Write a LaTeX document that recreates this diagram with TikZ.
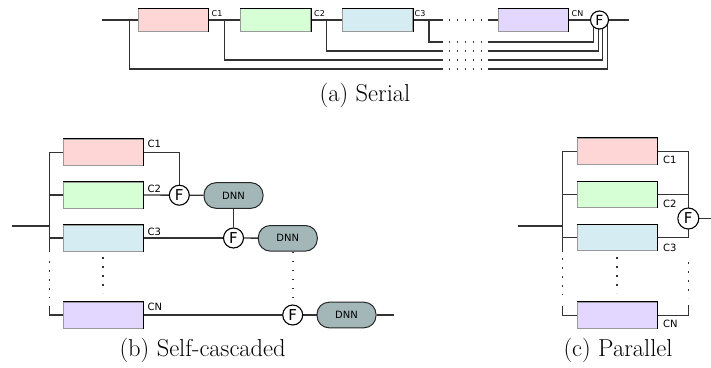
\documentclass[tikz,border=0pt]{standalone}
\usepackage{fontspec}
\newfontfamily\lblfont{DejaVu Sans}
\usetikzlibrary{backgrounds}
\definecolor{pinkc}{HTML}{FFD6D6}
\definecolor{greenc}{HTML}{D6FFD6}
\definecolor{bluec}{HTML}{D6ECF3}
\definecolor{purc}{HTML}{E3D6FF}
\definecolor{dnnc}{HTML}{A3B7B8}
\begin{document}
\begin{tikzpicture}[x=1pt,y=-1pt,
  conn/.style={draw=black!80, line width=1.3pt},
  dotline/.style={draw=black!80, line width=1.6pt, dash pattern=on 1.8pt off 7.2pt},
  sdotline/.style={draw=black!75, line width=1.4pt, dash pattern=on 1.6pt off 6.4pt},
  cbox/.style={draw=black!40, line width=1pt, inner sep=0pt, minimum width=80pt, minimum height=26pt},
  sbox/.style={cbox, minimum width=70pt, minimum height=22.7pt},
  fuse/.style={circle, draw=black, fill=white, line width=1.1pt, inner sep=0pt, minimum size=20pt, font=\lblfont\fontsize{15}{15}\selectfont},
  dnn/.style={draw=black!85, fill=dnnc, line width=1pt, rounded corners=12pt, minimum width=59pt, minimum height=25.6pt, inner sep=0pt, font=\lblfont\fontsize{10}{10}\selectfont},
  lbl/.style={font=\lblfont\fontsize{10}{10}\selectfont, inner sep=0pt, anchor=base west},
  slbl/.style={font=\lblfont\fontsize{8}{8}\selectfont, inner sep=0pt, anchor=base west},
  capt/.style={font=\fontsize{24.5}{29}\selectfont, inner sep=0pt, anchor=base}
]
\useasboundingbox (0,0) rectangle (711,367);

%% (a) Serial
\coordinate (sin) at (102,20);
\node[sbox, fill=pinkc] (s1) at (173.3,20) {};
\node[sbox, fill=greenc] (s2) at (275.5,20) {};
\node[sbox, fill=bluec] (s3) at (377.5,20) {};
\node[sbox, fill=purc] (s4) at (533.2,20) {};
\node[fuse, minimum size=18pt, font=\lblfont\fontsize{14}{14}\selectfont] (sF) at (599.5,20) {F};
\coordinate (sout) at (629,20);
\coordinate (sb1) at (129.3,20);
\coordinate (sb2) at (224.3,20);
\coordinate (sb3) at (326.7,20);
\coordinate (sb4) at (429,20);
\coordinate (sga) at (443,20);
\coordinate (sgb) at (448.5,20);
\coordinate (sgc) at (482,20);
\coordinate (sgd) at (488,20);
\node[slbl] (lc1) at (211.5,16.7) {C1};
\node[slbl] (lc2) at (314,16.7) {C2};
\node[slbl] (lc3) at (414.5,16.7) {C3};
\node[slbl] (lcn) at (571.5,16.7) {CN};

\begin{pgfonlayer}{background}
\draw[conn] (sin) -- (s1.west);
\draw[conn] (s1.east) -- (s2.west);
\draw[conn] (s2.east) -- (s3.west);
\draw[conn] (s3.east) -- (sga);
\draw[sdotline] (sgb) -- (sgc);
\draw[conn] (sgd) -- (s4.west);
\draw[conn] (s4.east) -- (sF);
\draw[conn] (sF) -- (sout);
\foreach \src/\yy/\dx in {sb1/69/7.8, sb2/60/3.2, sb3/51/-1.2, sb4/42/-6.2} {
  \draw[conn] (\src) |- ([yshift=-\yy pt+20pt]sga);
  \draw[sdotline] ([yshift=-\yy pt+20pt]sgb) -- ([yshift=-\yy pt+20pt]sgc);
  \draw[conn] ([yshift=-\yy pt+20pt]sgd) -| ([xshift=\dx pt]sF.center);
}
\end{pgfonlayer}

%% (b) Self-cascaded
\coordinate (bin) at (11.7,226);
\node[cbox, fill=pinkc] (b1) at (103.3,152.2) {};
\node[cbox, fill=greenc] (b2) at (103.3,195) {};
\node[cbox, fill=bluec] (b3) at (103.3,238) {};
\node[cbox, fill=purc] (bN) at (103.3,315) {};
\node[fuse] (f1) at (179.3,195.2) {F};
\node[dnn] (d1) at (233.5,195.5) {DNN};
\node[fuse] (f2) at (233.5,238) {F};
\node[dnn] (d2) at (287.8,238.3) {DNN};
\node[fuse] (f3) at (292.7,315) {F};
\node[dnn] (d3) at (346.5,315) {DNN};
\coordinate (bout) at (394,315);
\coordinate (bt) at (49.3,152.2);
\coordinate (bm1) at (49.3,252);
\coordinate (bm2) at (49.3,261);
\coordinate (bm3) at (49.3,298);
\coordinate (bm4) at (49.3,306);
\coordinate (bdA) at (102.7,257);
\coordinate (bdB) at (102.7,293);
\node[lbl] (bl1) at (147.5,147.3) {C1};
\node[lbl] (bl2) at (147.5,192.5) {C2};
\node[lbl] (bl3) at (147.5,235) {C3};
\node[lbl] (bln) at (147.5,310.5) {CN};

\begin{pgfonlayer}{background}
\draw[conn] (bin) -- (bin -| bt);
\draw[conn] (bt) -- (bm1);
\draw[dotline] (bm2) -- (bm3);
\draw[conn] (bm4) |- (bN.west);
\draw[conn] (bt) -- (b1.west);
\draw[conn] (b2.west -| bt) -- (b2.west);
\draw[conn] (b3.west -| bt) -- (b3.west);
\draw[dotline] (bdA) -- (bdB);
\draw[conn] (b1.east) -| (f1);
\draw[conn] (b2.east) -- (f1);
\draw[conn] (f1) -- (d1);
\draw[conn] (d1) -- (f2);
\draw[conn] (b3.east) -- (f2);
\draw[conn] (f2) -- (d2);
\draw[dotline] (d2.south -| f3) -- (f3.north);
\draw[conn] (bN.east) -- (f3);
\draw[conn] (f3) -- (d3);
\draw[conn] (d3) -- (bout);
\end{pgfonlayer}

%% (c) Parallel
\coordinate (pin) at (518.3,226);
\node[cbox, fill=pinkc] (p1) at (617,151.2) {};
\node[cbox, fill=greenc] (p2) at (617,194.5) {};
\node[cbox, fill=bluec] (p3) at (617,237.5) {};
\node[cbox, fill=purc] (pN) at (617,315.3) {};
\node[fuse, minimum size=21pt] (pF) at (688.3,218.5) {F};
\coordinate (pout) at (711,218.5);
\coordinate (pt) at (562.3,151.2);
\coordinate (pm1) at (562.3,252);
\coordinate (pm2) at (562.3,258);
\coordinate (pm3) at (562.3,295);
\coordinate (pm4) at (562.3,306);
\coordinate (qm2) at (688.3,262);
\coordinate (qm3) at (688.3,298);
\coordinate (qm4) at (688.3,305);
\coordinate (pdA) at (616.7,257);
\coordinate (pdB) at (616.7,293);
\node[lbl] (pl1) at (663,163.3) {C1};
\node[lbl] (pl2) at (663,207.3) {C2};
\node[lbl] (pl3) at (663,251.3) {C3};
\node[lbl] (pln) at (663,327.3) {CN};

\begin{pgfonlayer}{background}
\draw[conn] (pin) -- (pin -| pt);
\draw[conn] (pt) -- (pm1);
\draw[dotline] (pm2) -- (pm3);
\draw[conn] (pm4) |- (pN.west);
\draw[conn] (pt) -- (p1.west);
\draw[conn] (p2.west -| pt) -- (p2.west);
\draw[conn] (p3.west -| pt) -- (p3.west);
\draw[dotline] (pdA) -- (pdB);
\draw[conn] (p1.east) -- (p1.east -| pF) -- (p3.east -| pF) -- (p3.east);
\draw[conn] (p2.east) -- (p2.east -| pF);
\draw[dotline] (qm2) -- (qm3);
\draw[conn] (qm4) |- (pN.east);
\draw[conn] (pF) -- (pout);
\end{pgfonlayer}

%% box top/right edges
\foreach \b in {s1,s2,s3,s4,b1,b2,b3,bN,p1,p2,p3,pN}
  \draw[black, line width=1pt] (\b.north west) -- (\b.north east) -- (\b.south east);

%% captions
\node[capt] (ca) at (365,101.4) {(a) Serial};
\node[capt] (cb) at (202.6,356.4) {(b) Self-cascaded};
\node[capt] (cc) at (618,356.4) {(c) Parallel};
\end{tikzpicture}
\end{document}
